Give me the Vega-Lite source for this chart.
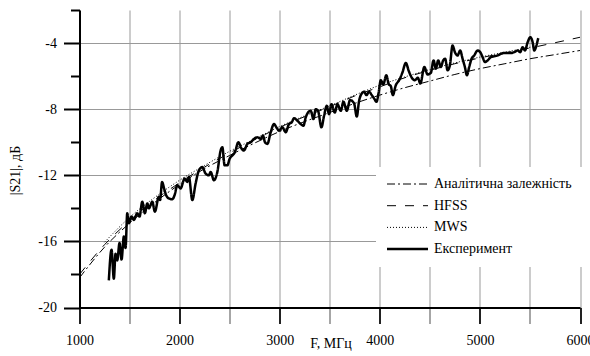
{
  "$schema": "https://vega.github.io/schema/vega-lite/v6.json",
  "autosize": {"type": "none"},
  "padding": {"left": 79.5, "top": 10, "right": 10, "bottom": 48},
  "width": 500.5,
  "height": 297.5,
  "background": "white",
  "config": {"font": "'Liberation Serif', 'Times New Roman', serif", "view": {"stroke": null}},
  "datasets": {
    "curves": [
      {"series": "Аналітична залежність", "f": 1000, "s": -18.2},
      {"series": "Аналітична залежність", "f": 1250, "s": -16.35},
      {"series": "Аналітична залежність", "f": 1500, "s": -14.9},
      {"series": "Аналітична залежність", "f": 1750, "s": -13.65},
      {"series": "Аналітична залежність", "f": 2000, "s": -12.55},
      {"series": "Аналітична залежність", "f": 2250, "s": -11.6},
      {"series": "Аналітична залежність", "f": 2500, "s": -10.8},
      {"series": "Аналітична залежність", "f": 2750, "s": -10.05},
      {"series": "Аналітична залежність", "f": 3000, "s": -9.35},
      {"series": "Аналітична залежність", "f": 3250, "s": -8.75},
      {"series": "Аналітична залежність", "f": 3500, "s": -8.2},
      {"series": "Аналітична залежність", "f": 3750, "s": -7.65},
      {"series": "Аналітична залежність", "f": 4000, "s": -7.15},
      {"series": "Аналітична залежність", "f": 4250, "s": -6.7},
      {"series": "Аналітична залежність", "f": 4500, "s": -6.3},
      {"series": "Аналітична залежність", "f": 4750, "s": -5.9},
      {"series": "Аналітична залежність", "f": 5000, "s": -5.55},
      {"series": "Аналітична залежність", "f": 5250, "s": -5.25},
      {"series": "Аналітична залежність", "f": 5500, "s": -4.95},
      {"series": "Аналітична залежність", "f": 5750, "s": -4.7},
      {"series": "Аналітична залежність", "f": 6000, "s": -4.45},
      {"series": "HFSS", "f": 1000, "s": -18.0},
      {"series": "HFSS", "f": 1250, "s": -16.2},
      {"series": "HFSS", "f": 1500, "s": -14.75},
      {"series": "HFSS", "f": 1750, "s": -13.5},
      {"series": "HFSS", "f": 2000, "s": -12.45},
      {"series": "HFSS", "f": 2250, "s": -11.5},
      {"series": "HFSS", "f": 2500, "s": -10.65},
      {"series": "HFSS", "f": 2750, "s": -9.85},
      {"series": "HFSS", "f": 3000, "s": -9.1},
      {"series": "HFSS", "f": 3250, "s": -8.45},
      {"series": "HFSS", "f": 3500, "s": -7.85},
      {"series": "HFSS", "f": 3750, "s": -7.2},
      {"series": "HFSS", "f": 4000, "s": -6.65},
      {"series": "HFSS", "f": 4250, "s": -6.1},
      {"series": "HFSS", "f": 4500, "s": -5.65},
      {"series": "HFSS", "f": 4750, "s": -5.25},
      {"series": "HFSS", "f": 5000, "s": -4.9},
      {"series": "HFSS", "f": 5250, "s": -4.6},
      {"series": "HFSS", "f": 5500, "s": -4.3},
      {"series": "HFSS", "f": 5750, "s": -3.98},
      {"series": "HFSS", "f": 6000, "s": -3.65},
      {"series": "MWS", "f": 1250, "s": -16.05},
      {"series": "MWS", "f": 1500, "s": -14.55},
      {"series": "MWS", "f": 1750, "s": -13.35},
      {"series": "MWS", "f": 2000, "s": -12.3},
      {"series": "MWS", "f": 2250, "s": -11.4},
      {"series": "MWS", "f": 2500, "s": -10.55},
      {"series": "MWS", "f": 2750, "s": -9.8},
      {"series": "MWS", "f": 3000, "s": -9.05},
      {"series": "MWS", "f": 3250, "s": -8.4},
      {"series": "MWS", "f": 3500, "s": -7.8},
      {"series": "MWS", "f": 3750, "s": -7.15},
      {"series": "MWS", "f": 4000, "s": -6.55},
      {"series": "MWS", "f": 4250, "s": -6.05},
      {"series": "MWS", "f": 4500, "s": -5.6},
      {"series": "MWS", "f": 4750, "s": -5.2},
      {"series": "MWS", "f": 5000, "s": -4.85},
      {"series": "MWS", "f": 5250, "s": -4.55},
      {"series": "MWS", "f": 5550, "s": -4.2},
      {"series": "Експеримент", "f": 1293, "s": -18.36},
      {"series": "Експеримент", "f": 1320, "s": -16.5},
      {"series": "Експеримент", "f": 1343, "s": -18.26},
      {"series": "Експеримент", "f": 1360, "s": -16.75},
      {"series": "Експеримент", "f": 1377, "s": -17.15},
      {"series": "Експеримент", "f": 1400, "s": -16.1},
      {"series": "Експеримент", "f": 1420, "s": -17.1},
      {"series": "Експеримент", "f": 1443, "s": -15.7},
      {"series": "Експеримент", "f": 1460, "s": -16.4},
      {"series": "Експеримент", "f": 1477, "s": -14.3},
      {"series": "Експеримент", "f": 1493, "s": -14.9},
      {"series": "Експеримент", "f": 1520, "s": -14.5},
      {"series": "Експеримент", "f": 1543, "s": -14.7},
      {"series": "Експеримент", "f": 1577, "s": -14.3},
      {"series": "Експеримент", "f": 1600, "s": -14.5},
      {"series": "Експеримент", "f": 1627, "s": -13.6},
      {"series": "Експеримент", "f": 1653, "s": -14.3},
      {"series": "Експеримент", "f": 1677, "s": -13.7},
      {"series": "Експеримент", "f": 1693, "s": -14.0},
      {"series": "Експеримент", "f": 1727, "s": -13.6},
      {"series": "Експеримент", "f": 1753, "s": -14.2},
      {"series": "Експеримент", "f": 1793, "s": -13.3},
      {"series": "Експеримент", "f": 1805, "s": -13.5},
      {"series": "Експеримент", "f": 1825, "s": -12.4},
      {"series": "Експеримент", "f": 1845, "s": -12.8},
      {"series": "Експеримент", "f": 1865, "s": -13.2},
      {"series": "Експеримент", "f": 1893, "s": -13.4},
      {"series": "Експеримент", "f": 1927, "s": -13.45},
      {"series": "Експеримент", "f": 1950, "s": -13.2},
      {"series": "Експеримент", "f": 1977, "s": -12.6},
      {"series": "Експеримент", "f": 2010, "s": -12.8},
      {"series": "Експеримент", "f": 2050, "s": -12.2},
      {"series": "Експеримент", "f": 2077, "s": -12.4},
      {"series": "Експеримент", "f": 2093, "s": -12.1},
      {"series": "Експеримент", "f": 2127, "s": -13.5},
      {"series": "Експеримент", "f": 2160, "s": -12.5},
      {"series": "Експеримент", "f": 2193, "s": -11.7},
      {"series": "Експеримент", "f": 2227, "s": -11.5},
      {"series": "Експеримент", "f": 2260, "s": -11.9},
      {"series": "Експеримент", "f": 2293, "s": -12.0},
      {"series": "Експеримент", "f": 2310, "s": -11.8},
      {"series": "Експеримент", "f": 2343, "s": -12.3},
      {"series": "Експеримент", "f": 2377, "s": -11.8},
      {"series": "Експеримент", "f": 2410, "s": -10.5},
      {"series": "Експеримент", "f": 2427, "s": -10.3},
      {"series": "Експеримент", "f": 2450, "s": -11.4},
      {"series": "Експеримент", "f": 2477, "s": -11.4},
      {"series": "Експеримент", "f": 2500, "s": -11.0},
      {"series": "Експеримент", "f": 2527, "s": -10.8},
      {"series": "Експеримент", "f": 2553, "s": -10.6},
      {"series": "Експеримент", "f": 2587, "s": -10.0},
      {"series": "Експеримент", "f": 2620, "s": -10.4},
      {"series": "Експеримент", "f": 2643, "s": -10.5},
      {"series": "Експеримент", "f": 2677, "s": -10.1},
      {"series": "Експеримент", "f": 2710, "s": -10.0},
      {"series": "Експеримент", "f": 2743, "s": -9.8},
      {"series": "Експеримент", "f": 2777, "s": -9.7},
      {"series": "Експеримент", "f": 2810, "s": -9.8},
      {"series": "Експеримент", "f": 2833, "s": -9.6},
      {"series": "Експеримент", "f": 2853, "s": -10.0},
      {"series": "Експеримент", "f": 2877, "s": -10.1},
      {"series": "Експеримент", "f": 2910, "s": -9.4},
      {"series": "Експеримент", "f": 2943, "s": -8.9},
      {"series": "Експеримент", "f": 2967, "s": -9.1},
      {"series": "Експеримент", "f": 2993, "s": -9.3},
      {"series": "Експеримент", "f": 3027, "s": -9.1},
      {"series": "Експеримент", "f": 3060, "s": -9.4},
      {"series": "Експеримент", "f": 3093, "s": -8.9},
      {"series": "Експеримент", "f": 3120, "s": -8.8},
      {"series": "Експеримент", "f": 3143, "s": -8.55},
      {"series": "Експеримент", "f": 3177, "s": -8.7},
      {"series": "Експеримент", "f": 3210, "s": -8.9},
      {"series": "Експеримент", "f": 3237, "s": -9.0},
      {"series": "Експеримент", "f": 3260, "s": -8.5},
      {"series": "Експеримент", "f": 3283, "s": -8.2},
      {"series": "Експеримент", "f": 3310, "s": -8.1},
      {"series": "Експеримент", "f": 3337, "s": -8.6},
      {"series": "Експеримент", "f": 3360, "s": -8.0},
      {"series": "Експеримент", "f": 3383, "s": -8.1},
      {"series": "Експеримент", "f": 3417, "s": -9.1},
      {"series": "Експеримент", "f": 3443, "s": -8.4},
      {"series": "Експеримент", "f": 3470, "s": -7.8},
      {"series": "Експеримент", "f": 3493, "s": -8.3},
      {"series": "Експеримент", "f": 3517, "s": -7.7},
      {"series": "Експеримент", "f": 3550, "s": -8.2},
      {"series": "Експеримент", "f": 3577, "s": -7.7},
      {"series": "Експеримент", "f": 3610, "s": -8.1},
      {"series": "Експеримент", "f": 3637, "s": -7.55},
      {"series": "Експеримент", "f": 3670, "s": -8.1},
      {"series": "Експеримент", "f": 3703, "s": -7.45},
      {"series": "Експеримент", "f": 3743, "s": -7.65},
      {"series": "Експеримент", "f": 3770, "s": -8.45},
      {"series": "Експеримент", "f": 3793, "s": -7.5},
      {"series": "Експеримент", "f": 3820, "s": -7.05},
      {"series": "Експеримент", "f": 3843, "s": -6.95},
      {"series": "Експеримент", "f": 3867, "s": -7.15},
      {"series": "Експеримент", "f": 3893, "s": -6.95},
      {"series": "Експеримент", "f": 3920, "s": -7.15},
      {"series": "Експеримент", "f": 3943, "s": -7.35},
      {"series": "Експеримент", "f": 3967, "s": -7.55},
      {"series": "Експеримент", "f": 3987, "s": -7.05},
      {"series": "Експеримент", "f": 4010, "s": -6.25},
      {"series": "Експеримент", "f": 4035, "s": -6.5},
      {"series": "Експеримент", "f": 4065, "s": -5.95},
      {"series": "Експеримент", "f": 4090, "s": -6.5},
      {"series": "Експеримент", "f": 4110, "s": -6.6},
      {"series": "Експеримент", "f": 4130, "s": -7.15},
      {"series": "Експеримент", "f": 4160, "s": -6.55},
      {"series": "Експеримент", "f": 4193, "s": -6.25},
      {"series": "Експеримент", "f": 4225, "s": -5.8},
      {"series": "Експеримент", "f": 4260, "s": -5.2},
      {"series": "Експеримент", "f": 4290, "s": -5.7},
      {"series": "Експеримент", "f": 4320, "s": -6.1},
      {"series": "Експеримент", "f": 4350, "s": -6.25},
      {"series": "Експеримент", "f": 4380, "s": -6.1},
      {"series": "Експеримент", "f": 4405, "s": -6.45},
      {"series": "Експеримент", "f": 4445, "s": -5.45},
      {"series": "Експеримент", "f": 4477, "s": -5.9},
      {"series": "Експеримент", "f": 4510, "s": -5.8},
      {"series": "Експеримент", "f": 4537, "s": -5.05},
      {"series": "Експеримент", "f": 4560, "s": -5.55},
      {"series": "Експеримент", "f": 4583, "s": -5.05},
      {"series": "Експеримент", "f": 4610, "s": -5.45},
      {"series": "Експеримент", "f": 4633, "s": -5.05},
      {"series": "Експеримент", "f": 4653, "s": -4.95},
      {"series": "Експеримент", "f": 4677, "s": -5.65},
      {"series": "Експеримент", "f": 4700, "s": -5.35},
      {"series": "Експеримент", "f": 4727, "s": -4.15},
      {"series": "Експеримент", "f": 4750, "s": -4.55},
      {"series": "Експеримент", "f": 4777, "s": -4.75},
      {"series": "Експеримент", "f": 4803, "s": -4.45},
      {"series": "Експеримент", "f": 4827, "s": -4.95},
      {"series": "Експеримент", "f": 4850, "s": -5.45},
      {"series": "Експеримент", "f": 4870, "s": -5.95},
      {"series": "Експеримент", "f": 4893, "s": -5.45},
      {"series": "Експеримент", "f": 4917, "s": -4.95},
      {"series": "Експеримент", "f": 4943, "s": -4.75},
      {"series": "Експеримент", "f": 4977, "s": -4.45},
      {"series": "Експеримент", "f": 5003, "s": -4.55},
      {"series": "Експеримент", "f": 5027, "s": -4.85},
      {"series": "Експеримент", "f": 5050, "s": -5.15},
      {"series": "Експеримент", "f": 5077, "s": -5.05},
      {"series": "Експеримент", "f": 5110, "s": -4.85},
      {"series": "Експеримент", "f": 5143, "s": -4.8},
      {"series": "Експеримент", "f": 5177, "s": -4.75},
      {"series": "Експеримент", "f": 5210, "s": -4.65},
      {"series": "Експеримент", "f": 5243, "s": -4.6},
      {"series": "Експеримент", "f": 5277, "s": -4.6},
      {"series": "Експеримент", "f": 5310, "s": -4.6},
      {"series": "Експеримент", "f": 5343, "s": -4.55},
      {"series": "Експеримент", "f": 5377, "s": -4.45},
      {"series": "Експеримент", "f": 5403, "s": -4.55},
      {"series": "Експеримент", "f": 5427, "s": -4.25},
      {"series": "Експеримент", "f": 5450, "s": -4.45},
      {"series": "Експеримент", "f": 5477, "s": -3.95},
      {"series": "Експеримент", "f": 5503, "s": -3.65},
      {"series": "Експеримент", "f": 5527, "s": -3.95},
      {"series": "Експеримент", "f": 5543, "s": -4.45},
      {"series": "Експеримент", "f": 5560, "s": -4.25},
      {"series": "Експеримент", "f": 5577, "s": -3.85},
      {"series": "Експеримент", "f": 5583, "s": -3.7}
    ]
  },
  "data": {"name": "curves"},
  "mark": {"type": "line", "interpolate": "monotone", "color": "black", "clip": true},
  "encoding": {
    "x": {
      "field": "f",
      "type": "quantitative",
      "scale": {"domain": [1000, 6000], "nice": false, "zero": false},
      "axis": {
        "values": [1000, 1500, 2000, 2500, 3000, 3500, 4000, 4500, 5000, 5500, 6000],
        "labelExpr": "datum.value % 1000 == 0 ? toString(datum.value) : ''",
        "grid": true,
        "gridColor": "#999999",
        "gridWidth": 1,
        "domainColor": "black",
        "domainWidth": 2,
        "tickSize": 16,
        "tickWidth": {"condition": {"test": "datum.value % 1000 == 0", "value": 2}, "value": 1.5},
        "tickColor": {"condition": {"test": "datum.value % 1000 == 0", "value": "#222222"}, "value": "#888888"},
        "labelFont": "'Liberation Serif', 'Times New Roman', serif",
        "labelFontSize": 14,
        "labelColor": "black",
        "labelPadding": 10,
        "labelOverlap": false,
        "labelFlush": false,
        "title": "F, МГц",
        "titleFont": "'Liberation Serif', 'Times New Roman', serif",
        "titleFontSize": 14,
        "titleFontWeight": "normal",
        "titleColor": "black",
        "titleX": 251,
        "titleY": 36,
        "titleAlign": "center",
        "titleBaseline": "middle"
      }
    },
    "y": {
      "field": "s",
      "type": "quantitative",
      "scale": {"domain": [-20, -2], "nice": false, "zero": false},
      "axis": {
        "values": [-20, -18, -16, -14, -12, -10, -8, -6, -4, -2],
        "labelExpr": "datum.value % 4 == 0 ? toString(datum.value) : ''",
        "grid": true,
        "gridColor": "#999999",
        "gridWidth": 1,
        "gridOpacity": {"condition": {"test": "datum.value % 4 == 0", "value": 1}, "value": 0},
        "domainColor": "black",
        "domainWidth": 2,
        "tickSize": {"condition": {"test": "datum.value % 4 == 0", "value": 16}, "value": 9},
        "tickWidth": 2,
        "tickColor": "black",
        "labelFont": "'Liberation Serif', 'Times New Roman', serif",
        "labelFontSize": 14,
        "labelColor": "black",
        "labelPadding": 7,
        "labelOverlap": false,
        "labelFlush": false,
        "title": "|S21|, дБ",
        "titleFont": "'Liberation Serif', 'Times New Roman', serif",
        "titleFontSize": 14,
        "titleFontWeight": "normal",
        "titleColor": "black",
        "titleX": -64,
        "titleY": 160,
        "titleAlign": "center",
        "titleBaseline": "middle",
        "titleAngle": -90
      }
    },
    "strokeDash": {
      "field": "series",
      "type": "nominal",
      "scale": {
        "domain": ["Аналітична залежність", "HFSS", "MWS", "Експеримент"],
        "range": [[8, 3, 2, 3], [9, 9], [1, 2], [1, 0]]
      },
      "legend": {
        "title": null,
        "orient": "none",
        "legendX": 296.5,
        "legendY": 157,
        "fillColor": "white",
        "padding": 10,
        "symbolType": "M-1.2,0H7",
        "symbolSize": 100,
        "symbolStrokeColor": "black",
        "symbolFillColor": "transparent",
        "labelOffset": 34,
        "labelFont": "'Liberation Serif', 'Times New Roman', serif",
        "labelFontSize": 14,
        "labelColor": "black",
        "labelLimit": 300,
        "rowPadding": 7.7
      }
    },
    "strokeWidth": {
      "field": "series",
      "type": "nominal",
      "scale": {
        "type": "ordinal",
        "domain": ["Аналітична залежність", "HFSS", "MWS", "Експеримент"],
        "range": [1, 1, 1, 2.5]
      }
    }
  }
}
